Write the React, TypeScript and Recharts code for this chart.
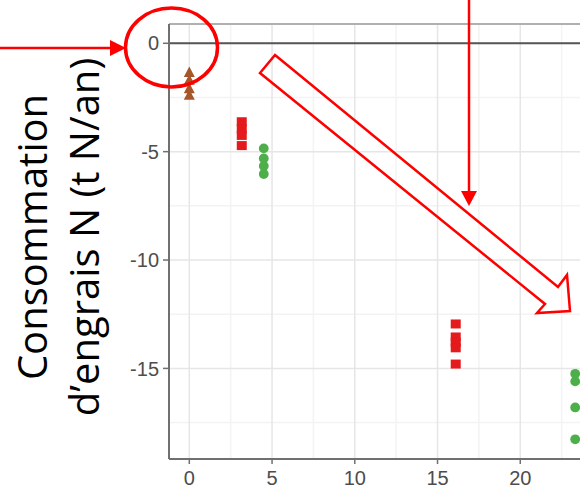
import {
  CartesianGrid,
  ReferenceLine,
  Scatter,
  ScatterChart,
  XAxis,
  YAxis,
} from "recharts";

// axis ticks
const xTicks = [0, 5, 10, 15, 20];
const yTicks = [0, -5, -10, -15];
const xMinor = [2.5, 7.5, 12.5, 17.5, 22.5];
const yMinor = [-2.5, -7.5, -12.5, -17.5];
const xDomain = [-1.227, 25.0];
const yDomain = [-19.18, 0.89];

// brown triangles
const brownX = [0, 0, 0, 0];
const brownY = [-1.35, -1.7, -2.1, -2.4];
// red squares
const redX = [3.17, 3.17, 3.17, 3.17, 16.1, 16.1, 16.1, 16.1, 16.1];
const redY = [-3.62, -3.95, -4.25, -4.72, -12.95, -13.55, -13.8, -14.05, -14.8];
// green circles
const greenX = [4.5, 4.5, 4.5, 4.5, 23.32, 23.32, 23.32, 23.32];
const greenY = [-4.85, -5.31, -5.66, -6.03, -15.25, -15.6, -16.8, -18.27];

const zip = (xs: number[], ys: number[]) => xs.map((x, i) => ({ x, y: ys[i] }));

const brownData = zip(brownX, brownY);
const redData = zip(redX, redY);
const greenData = zip(greenX, greenY);

const Triangle = (p: any) => (
  <polygon
    points={`${p.cx},${p.cy - 6} ${p.cx - 5.5},${p.cy + 4.5} ${p.cx + 5.5},${p.cy + 4.5}`}
    fill="#a65628"
  />
);
const Square = (p: any) => (
  <rect x={p.cx - 5} y={p.cy - 4.5} width={10} height={9} fill="#e41a1c" />
);
const Dot = (p: any) => <circle cx={p.cx} cy={p.cy} r={4.9} fill="#4daf4a" />;

const YLabel = () => (
  <g fontFamily="'Open Sans', sans-serif" fontSize={40} fill="#000">
    <text x={47} y={237} textAnchor="middle" transform="rotate(-90 47 237)">
      Consommation
    </text>
    <text x={99} y={237} textAnchor="middle" transform="rotate(-90 99 237)">
      d’engrais N (t N/an)
    </text>
  </g>
);

const tickStyle = { fill: "#4d4d4d", fontSize: 20, fontFamily: "'Liberation Sans', Arial, sans-serif" };

export default function App() {
  return (
    <div
      style={{
        position: "absolute",
        left: 0,
        top: 0,
        width: 580,
        height: 489,
        overflow: "hidden",
        background: "#fff",
      }}
    >
      <ScatterChart
        width={620}
        height={489}
        margin={{ top: 24, right: 17, bottom: 0, left: 0 }}
      >
        <CartesianGrid
          stroke="#f3f3f3"
          strokeWidth={1.5}
          verticalValues={xMinor}
          horizontalValues={yMinor}
        />
        <CartesianGrid
          stroke="#e6e6e6"
          strokeWidth={1.5}
          verticalValues={xTicks}
          horizontalValues={yTicks}
        />
        <XAxis
          type="number"
          dataKey="x"
          domain={xDomain}
          ticks={xTicks}
          allowDataOverflow
          height={30}
          tick={tickStyle}
          tickSize={5}
          tickMargin={7}
          axisLine={{ stroke: "#707070", strokeWidth: 2 }}
          tickLine={{ stroke: "#707070", strokeWidth: 1.5 }}
        />
        <YAxis
          type="number"
          dataKey="y"
          domain={yDomain}
          ticks={yTicks}
          allowDataOverflow
          width={169}
          tick={tickStyle}
          tickSize={6}
          tickMargin={4}
          axisLine={{ stroke: "#707070", strokeWidth: 2 }}
          tickLine={{ stroke: "#707070", strokeWidth: 1.5 }}
          label={{ content: YLabel }}
        />
        <ReferenceLine y={yDomain[1]} stroke="#b0b0b0" strokeWidth={2} ifOverflow="visible" />
        <ReferenceLine y={0} stroke="#555" strokeWidth={2} />
        <Scatter data={brownData} shape={Triangle} isAnimationActive={false} />
        <Scatter data={redData} shape={Square} isAnimationActive={false} />
        <Scatter data={greenData} shape={Dot} isAnimationActive={false} />
      </ScatterChart>

      {/* annotations */}
      <svg
        width={580}
        height={489}
        style={{ position: "absolute", left: 0, top: 0, pointerEvents: "none" }}
      >
        <line x1={0} y1={48} x2={112} y2={48} stroke="#ff0000" strokeWidth={2.5} />
        <polygon points="110,40 110,56 126,48" fill="#ff0000" />
        <ellipse cx={171.5} cy={47.5} rx={46} ry={39.5} fill="none" stroke="#ff0000" strokeWidth={3.5} />
        <line x1={469} y1={0} x2={469} y2={192} stroke="#ff0000" strokeWidth={2.5} />
        <polygon points="461,191 477,191 469,206" fill="#ff0000" />
        <polygon
          points="275,55 558,287 567,275 570,311 537,313 545,304 260,73"
          fill="none"
          stroke="#ff0000"
          strokeWidth={2.5}
        />
      </svg>
    </div>
  );
}
